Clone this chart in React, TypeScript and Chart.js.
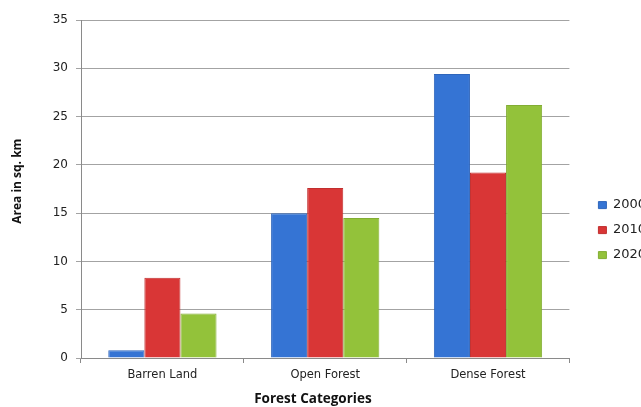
import React, { useEffect, useRef } from "react";
import { Chart, registerables } from "chart.js";

Chart.register(...registerables);

const categories = ["Barren Land", "Open Forest", "Dense Forest"];
const seriesNames = ["2000", "2010", "2020"];
const values2000 = [0.8, 15.0, 29.4];
const values2010 = [8.3, 17.6, 19.2];
const values2020 = [4.6, 14.5, 26.2];
const yTicks = [0, 5, 10, 15, 20, 25, 30, 35];

const fills = ["#3574d4", "#d93636", "#93c23a"];
const borders = ["#2f66bb", "#c12f2f", "#82ad33"];

export default function App() {
  const ref = useRef<HTMLCanvasElement | null>(null);
  useEffect(() => {
    if (!ref.current) return;
    const data = [values2000, values2010, values2020];
    const chart = new Chart(ref.current, {
      type: "bar",
      data: {
        labels: categories,
        datasets: seriesNames.map((n, i) => ({
          label: n,
          data: data[i],
          backgroundColor: fills[i],
          borderColor: borders[i],
          borderWidth: 1,
          categoryPercentage: 0.665,
          barPercentage: 1,
        })),
      },
      options: {
        responsive: false,
        animation: false,
        devicePixelRatio: 1,
        layout: { padding: { top: 20, bottom: 0, left: 0, right: 0 } },
        plugins: {
          tooltip: { enabled: false },
          legend: {
            position: "right",
            title: { display: true, text: " ", padding: { top: 32, bottom: 0 }, font: { size: 1 } },
            labels: {
              boxWidth: 8,
              boxHeight: 7,
              padding: 12,
              color: "#222",
              font: { family: "'DejaVu Sans', Verdana, sans-serif", size: 13 },
            },
          },
        },
        scales: {
          x: {
            grid: { display: true, drawOnChartArea: false, color: "#8a8a8a", tickLength: 5, offset: true },
            border: { color: "#8a8a8a" },
            ticks: { color: "#222", padding: 5, font: { family: "'DejaVu Sans', Verdana, sans-serif", size: 11.5 } },
            title: {
              display: true,
              text: "Forest Categories       ",
              color: "#111",
              padding: { top: 0, bottom: 0 },
              font: { family: "'Open Sans', sans-serif", size: 13.5, weight: "bold" },
            },
            afterFit: (s: any) => { s.height = 49; },
          },
          y: {
            min: 0,
            max: 35,
            afterBuildTicks: (s: any) => { s.ticks = yTicks.map((v) => ({ value: v })); },
            grid: { color: "#a3a3a3", tickLength: 5 },
            border: { color: "#8a8a8a" },
            ticks: { color: "#222", padding: 8, font: { family: "'DejaVu Sans', Verdana, sans-serif", size: 12 } },
            title: {
              display: true,
              text: "     Area in sq. km",
              color: "#111",
              padding: { top: 10, bottom: 0 },
              font: { family: "'Open Sans', sans-serif", size: 12, weight: "bold" },
            },
            afterFit: (s: any) => { s.width = 81; },
          },
          gap: {
            type: "linear",
            position: "right",
            display: true,
            grid: { display: false },
            border: { display: false },
            ticks: { display: false },
            afterFit: (s: any) => { s.width = 17; },
          },
        },
      },
    });
    return () => chart.destroy();
  }, []);
  return (
    <div style={{ position: "absolute", left: 0, top: 0, width: 641, height: 407, overflow: "hidden", background: "#fff" }}>
      <canvas ref={ref} width={656} height={407} style={{ display: "block" }} />
    </div>
  );
}
